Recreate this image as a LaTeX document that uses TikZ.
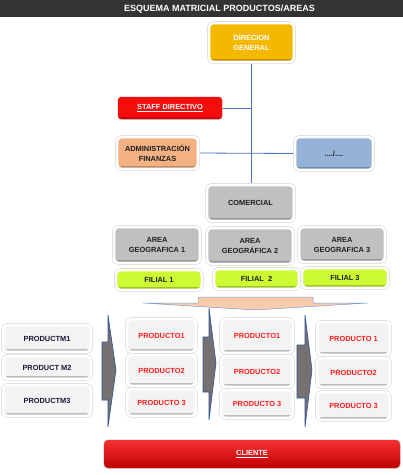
\documentclass[tikz,border=0pt]{standalone}
\usepackage{fontspec}
\setmainfont{Liberation Sans}
\definecolor{hdr}{RGB}{51,51,51}
\definecolor{gold}{RGB}{245,184,0}
\definecolor{staffred}{RGB}{245,12,12}
\definecolor{salmon}{RGB}{244,177,131}
\definecolor{lblue}{RGB}{149,179,215}
\definecolor{lgray}{RGB}{192,192,192}
\definecolor{lime}{RGB}{204,250,51}
\definecolor{pbox}{RGB}{243,243,243}
\definecolor{pred}{RGB}{255,30,30}
\definecolor{linkblue}{RGB}{68,114,196}
\definecolor{chev}{RGB}{118,113,113}
\definecolor{chevline}{RGB}{47,85,151}
\definecolor{peach}{RGB}{248,203,173}
\definecolor{navy}{RGB}{25,25,55}
\definecolor{dark}{RGB}{30,30,30}
\definecolor{clitop}{RGB}{245,50,50}
\definecolor{clibot}{RGB}{192,0,0}
\pgfdeclarelayer{bg}
\pgfsetlayers{bg,main}
\tikzset{
  lbl/.style={font=\bfseries\fontsize{7.4}{10}\selectfont, align=center, inner sep=0pt},
  card/.style={lbl, rounded corners=4pt, draw=white, line width=2.4pt,
     preaction={draw=black!12, line width=4pt},
     fill=#1,
     path picture={\fill[#1!78!black] ([yshift=2.8pt]path picture bounding box.south west) rectangle (path picture bounding box.south east);}},
  staffbox/.style={lbl, rounded corners=3pt, fill=staffred, text=white,
     preaction={draw=black!15, line width=1.5pt},
     path picture={\fill[staffred!80!black] ([yshift=2pt]path picture bounding box.south west) rectangle (path picture bounding box.south east);}},
  clibox/.style={lbl, rounded corners=4pt, top color=clitop, bottom color=clibot, text=white,
     preaction={draw=black!15, line width=1.5pt}},
  link/.style={draw=linkblue, line width=0.8pt},
  chevron/.style={fill=chev, draw=chevline, line width=0.6pt, line join=miter},
  bigarrow/.style={fill=peach, draw=linkblue!70, line width=0.5pt},
}
\begin{document}
\begin{tikzpicture}[x=1pt,y=-1pt]
\useasboundingbox (0,0) rectangle (403,475);
\fill[hdr] (0,0) rectangle (403,17);
\node[font=\bfseries\fontsize{9}{10}\selectfont, text=white, inner sep=0pt] (title) at (219.5,9.5) {ESQUEMA MATRICIAL PRODUCTOS/AREAS};

\node[card=gold, text=white, minimum width=84.6pt, minimum height=38.6pt] (dir) at (251.5,42.5) {DIRECION\\GENERAL};
\node[staffbox, minimum width=104pt, minimum height=22pt] (staff) at (170,108) {\underline{STAFF DIRECTIVO}};
\node[card=salmon, text=dark, minimum width=80.6pt, minimum height=31.6pt] (admin) at (157.5,153) {ADMINISTRACIÓN\\FINANZAS};
\node[card=lblue, text=dark, minimum width=77.6pt, minimum height=32.6pt] (other) at (334,153.5) {..../....};
\node[card=lgray, text=dark, minimum width=86.6pt, minimum height=35.6pt] (com) at (250.5,203) {COMERCIAL};
\node[card=lgray, text=dark, minimum width=85.6pt, minimum height=35.6pt] (ag1) at (157,245) {AREA\\GEOGRAFICA 1};
\node[card=lgray, text=dark, minimum width=85.6pt, minimum height=35.6pt] (ag2) at (250,246) {AREA\\GEOGRÁFICA 2};
\node[card=lgray, text=dark, minimum width=85.6pt, minimum height=34.6pt] (ag3) at (342,244.5) {AREA\\GEOGRAFICA 3};
\node[card=lime, text=dark, minimum width=85.6pt, minimum height=19.6pt] (fil1) at (159,280) {FILIAL 1};
\node[card=lime, text=dark, minimum width=84.6pt, minimum height=19.6pt] (fil2) at (256.5,279) {FILIAL\ \ 2};
\node[card=lime, text=dark, minimum width=85.6pt, minimum height=19.6pt] (fil3) at (345,278) {FILIAL 3};

\draw[bigarrow] (198,297) -- (313,297) -- (313,303) -- (368,303) -- (255,310) -- (143,303) -- (198,303) -- cycle;

\node[card=pbox, text=navy, minimum width=87.6pt, minimum height=26.6pt] (m1) at (47,338.5) {PRODUCTM1};
\node[card=pbox, text=navy, minimum width=87.6pt, minimum height=22.6pt] (m2) at (47,367.5) {PRODUCT M2};
\node[card=pbox, text=navy, minimum width=87.6pt, minimum height=30.6pt] (m3) at (47,400.5) {PRODUCTM3};

\node[card=pbox, text=pred, minimum width=68.6pt, minimum height=32.6pt] (p11) at (161.5,335.5) {PRODUCTO1};
\node[card=pbox, text=pred, minimum width=68.6pt, minimum height=30.6pt] (p12) at (161.5,370.5) {PRODUCTO2};
\node[card=pbox, text=pred, minimum width=68.6pt, minimum height=26.6pt] (p13) at (161.5,402.5) {PRODUCTO 3};
\node[card=pbox, text=pred, minimum width=71.6pt, minimum height=33.6pt] (p21) at (257,336) {PRODUCTO1};
\node[card=pbox, text=pred, minimum width=71.6pt, minimum height=30.6pt] (p22) at (257,371.5) {PRODUCTO2};
\node[card=pbox, text=pred, minimum width=71.6pt, minimum height=27.6pt] (p23) at (257,404) {PRODUCTO 3};
\node[card=pbox, text=pred, minimum width=72.6pt, minimum height=32.6pt] (p31) at (353.5,338.5) {PRODUCTO 1};
\node[card=pbox, text=pred, minimum width=72.6pt, minimum height=28.6pt] (p32) at (353.5,372.5) {PRODUCTO2};
\node[card=pbox, text=pred, minimum width=72.6pt, minimum height=27.6pt] (p33) at (353.5,406) {PRODUCTO 3};

\draw[chevron] (102,342) -- (108,342) -- (108,315) -- (116,370) -- (108,427) -- (108,400) -- (102,400) -- cycle;
\draw[chevron] (203,337) -- (209,337) -- (209,308) -- (216,363) -- (209,420) -- (209,392) -- (203,392) -- cycle;
\draw[chevron] (297,345) -- (305,345) -- (305,315) -- (312,370) -- (305,427) -- (305,398) -- (297,398) -- cycle;

\node[clibox, minimum width=296pt, minimum height=28pt] (cli) at (252,454) {\underline{CLIENTE}};

\begin{pgfonlayer}{bg}
\draw[link] (dir.south) -- (dir.south |- com.north);
\draw[link] (staff.east) -- (staff.east -| dir.south);
\draw[link] (admin.east) -- (other.west);
\end{pgfonlayer}
\end{tikzpicture}
\end{document}
